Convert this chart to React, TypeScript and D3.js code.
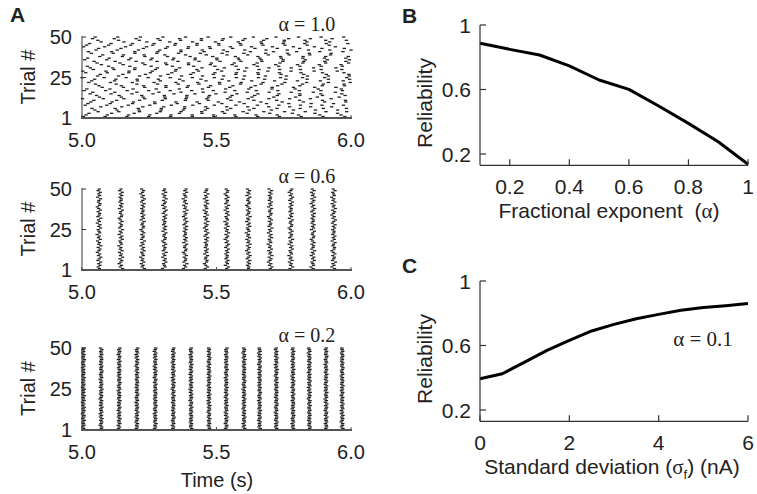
import React from "react";
import * as d3 from "d3";

// ---------- Panel A data (spike rasters) ----------
const trialCount = 50;
const timeTicks = [5.0, 5.5, 6.0];
const trialTicks = [1, 25, 50];
const alphaLabels = ["α = 1.0", "α = 0.6", "α = 0.2"];

// α = 1.0 : per-trial first-spike phase (ms) and inter-spike interval (s)
const phase10 = [
  5, 15, 26, 60, 48, 37, 70, 12, 22, 33,
  44, 2, 65, 54, 30, 40, 8, 18, 75, 63,
  50, 25, 36, 47, 0, 58, 68, 14, 3, 42,
  31, 20, 72, 56, 45, 10, 21, 66, 77, 35,
  24, 52, 62, 6, 17, 28, 71, 59, 39, 49,
];
const isi10 = [
  0.081, 0.079, 0.084, 0.077, 0.082, 0.086, 0.078, 0.080, 0.083, 0.079,
  0.085, 0.077, 0.081, 0.084, 0.078, 0.082, 0.080, 0.086, 0.079, 0.083,
  0.077, 0.081, 0.085, 0.079, 0.082, 0.078, 0.084, 0.080, 0.086, 0.077,
  0.083, 0.079, 0.081, 0.085, 0.078, 0.082, 0.080, 0.084, 0.077, 0.081,
  0.086, 0.079, 0.083, 0.078, 0.082, 0.080, 0.085, 0.077, 0.081, 0.084,
];

// α = 0.6 : burst times (s) and trial jitter (ms)
const bursts06 = [5.063, 5.144, 5.225, 5.306, 5.383, 5.461, 5.538, 5.618, 5.699, 5.776, 5.858, 5.935];
const jitter06 = [
  2, -3, 4, -1, 6, -4, 1, 7, -2, 3,
  -6, 0, 4, -3, 7, -1, 2, -5, 5, -2,
  1, -7, 3, 0, -3, 6, -1, 4, -6, 2,
  -2, 7, -4, 1, 3, -3, 5, -1, -6, 2,
  4, -2, 0, 6, -5, 3, -1, 5, -3, 1,
];

// α = 0.2 : burst times (s) and trial jitter (ms)
const bursts02 = [5.005, 5.071, 5.138, 5.204, 5.272, 5.339, 5.405, 5.472, 5.536, 5.602, 5.660, 5.722, 5.784, 5.845, 5.907, 5.967];
const jitter02 = [
  1, -2, 2, 0, -1, 3, -2, 1, 2, -3,
  0, 2, -1, 3, -2, 1, -3, 2, 0, -1,
  3, -2, 1, -1, 2, -3, 0, 2, -2, 1,
  -1, 3, -2, 0, 2, -1, 1, -3, 2, 0,
  -2, 1, 3, -1, 0, 2, -2, 1, -1, 2,
];

// ---------- Panel B data ----------
const alphaValues = [0.1, 0.2, 0.3, 0.4, 0.5, 0.6, 0.7, 0.8, 0.9, 1.0];
const reliabilityB = [0.887, 0.849, 0.814, 0.746, 0.659, 0.601, 0.498, 0.39, 0.276, 0.136];
const alphaTicks = [0.2, 0.4, 0.6, 0.8, 1];
const reliabilityTicks = [0.2, 0.6, 1];

// ---------- Panel C data ----------
const sigmaValues = [0, 0.5, 1, 1.5, 2, 2.5, 3, 3.5, 4, 4.5, 5, 5.5, 6];
const reliabilityC = [0.394, 0.425, 0.497, 0.57, 0.632, 0.69, 0.731, 0.766, 0.793, 0.818, 0.835, 0.847, 0.86];
const sigmaTicks = [0, 2, 4, 6];

const SANS = "'Liberation Sans', Arial, Helvetica, sans-serif";
const SERIF = "'Liberation Serif', 'Times New Roman', serif";
const FSA = 20;
const FSB = 21;

type Spike = { t: number; trial: number };

function spikes10(): Spike[] {
  const out: Spike[] = [];
  phase10.forEach((ph, i) => {
    for (let t = 5 + ph / 1000; t <= 6.0; t += isi10[i]) out.push({ t, trial: i + 1 });
  });
  return out;
}
function burstSpikes(bursts: number[], jit: number[]): Spike[] {
  const out: Spike[] = [];
  bursts.forEach((b, k) => {
    for (let i = 0; i < trialCount; i++) {
      const j = jit[(i + k * 7) % jit.length];
      out.push({ t: b + j / 1000, trial: i + 1 });
    }
  });
  return out;
}

function Raster({ top, bottom, spikes, label, labelY, dashW, showTime }: any) {
  const x = d3.scaleLinear().domain([5, 6]).range([82, 351]);
  const y = d3.scaleLinear().domain([1, 50]).range([bottom - 1.5, top + 1]);
  return (
    <g>
      {spikes.map((s: Spike, i: number) => (
        <rect key={i} x={x(s.t) - dashW / 2} y={y(s.trial) - 0.6} width={dashW} height={1.3} fill="#222" />
      ))}
      <line x1={82} x2={82} y1={top} y2={bottom} stroke="#333" strokeWidth={1} />
      <line x1={81} x2={352} y1={bottom} y2={bottom} stroke="#555" strokeWidth={2} />
      {trialTicks.map((t) => (
        <g key={t}>
          {t !== 1 && <line x1={82} x2={86} y1={y(t)} y2={y(t)} stroke="#333" strokeWidth={1} />}
          <text x={72} y={t === 1 ? bottom : y(t)} dy="0.36em" textAnchor="end" fontFamily={SANS} fontSize={FSA} fill="#222">{t}</text>
        </g>
      ))}
      {timeTicks.map((t) => (
        <g key={t}>
          <line x1={x(t)} x2={x(t)} y1={bottom} y2={bottom - 3} stroke="#555" strokeWidth={1} />
          <text x={x(t)} y={bottom + 29} textAnchor="middle" fontFamily={SANS} fontSize={FSA} fill="#222">{t.toFixed(1)}</text>
        </g>
      ))}
      <text x={307} y={labelY} textAnchor="middle" fontFamily={SERIF} fontSize={FSA} fill="#222">{label}</text>
      <text transform={`translate(35,${(top + bottom) / 2}) rotate(-90)`} textAnchor="middle" fontFamily={SANS} fontSize={FSA} fill="#222">Trial #</text>
      {showTime && (
        <text x={217} y={bottom + 57} textAnchor="middle" fontFamily={SANS} fontSize={FSA} fill="#222">Time (s)</text>
      )}
    </g>
  );
}

function LinePanel({ top, xs, ys, xDomain, xTicks, xFmt, xLabel, extra }: any) {
  const x = d3.scaleLinear().domain(xDomain).range([480, 748]);
  const y = d3.scaleLinear().domain([0.2, 1]).range([top + 129, top]);
  const bottom = y(0.13);
  const line = d3.line<number>().x((_, i) => x(xs[i])).y((d) => y(d));
  return (
    <g>
      <path d={line(ys) || ""} fill="none" stroke="#000" strokeWidth={3} strokeLinejoin="round" />
      <line x1={480} x2={480} y1={top} y2={bottom} stroke="#333" strokeWidth={1.2} />
      <line x1={480} x2={748} y1={bottom} y2={bottom} stroke="#333" strokeWidth={1.2} />
      {reliabilityTicks.map((t) => (
        <g key={t}>
          <line x1={480} x2={486} y1={y(t)} y2={y(t)} stroke="#333" strokeWidth={1.2} />
          <text x={471} y={y(t)} dy="0.36em" textAnchor="end" fontFamily={SANS} fontSize={FSB} fill="#222">{t}</text>
        </g>
      ))}
      {xTicks.map((t: number) => (
        <g key={t}>
          <line x1={x(t)} x2={x(t)} y1={bottom} y2={bottom - 6} stroke="#333" strokeWidth={1.2} />
          <text x={x(t)} y={bottom + 29} textAnchor="middle" fontFamily={SANS} fontSize={FSB} fill="#222">{xFmt(t)}</text>
        </g>
      ))}
      <text transform={`translate(432,${top + 78}) rotate(-90)`} textAnchor="middle" fontFamily={SANS} fontSize={FSB} fill="#222">Reliability</text>
      {xLabel}
      {extra}
    </g>
  );
}

export default function App() {
  const s10 = spikes10();
  const s06 = burstSpikes(bursts06, jitter06);
  const s02 = burstSpikes(bursts02, jitter02);
  return (
    <svg width={757} height={494} style={{ position: "absolute", left: 0, top: 0, background: "#fff" }}>
      <text x={10} y={22} fontFamily={SANS} fontWeight="bold" fontSize={21} fill="#222">A</text>
      <text x={402} y={23} fontFamily={SANS} fontWeight="bold" fontSize={21} fill="#222">B</text>
      <text x={402} y={273} fontFamily={SANS} fontWeight="bold" fontSize={21} fill="#222">C</text>

      <Raster top={36} bottom={118} spikes={s10} label={alphaLabels[0]} labelY={31} dashW={3.4} />
      <Raster top={188} bottom={270} spikes={s06} label={alphaLabels[1]} labelY={183} dashW={3.2} />
      <Raster top={347} bottom={430} spikes={s02} label={alphaLabels[2]} labelY={342} dashW={3.6} showTime />

      <LinePanel
        top={25}
        xs={alphaValues}
        ys={reliabilityB}
        xDomain={[0.1, 1]}
        xTicks={alphaTicks}
        xFmt={(t: number) => (t === 1 ? "1" : t.toFixed(1))}
        xLabel={
          <text x={609} y={218} textAnchor="middle" fontFamily={SANS} fontSize={FSB} fill="#222" style={{ whiteSpace: "pre" }}>
            {"Fractional exponent  ("}<tspan fontFamily={SERIF}>α</tspan>)
          </text>
        }
      />
      <LinePanel
        top={281}
        xs={sigmaValues}
        ys={reliabilityC}
        xDomain={[0, 6]}
        xTicks={sigmaTicks}
        xFmt={(t: number) => String(t)}
        xLabel={
          <text x={612} y={474} textAnchor="middle" fontFamily={SANS} fontSize={FSB} fill="#222">
            Standard deviation (<tspan fontFamily={SERIF}>σ</tspan><tspan fontSize={13} dy={5}>f</tspan><tspan dy={-5}>) (nA)</tspan>
          </text>
        }
        extra={
          <text x={703} y={346} textAnchor="middle" fontFamily={SERIF} fontSize={FSB} fill="#222">α = 0.1</text>
        }
      />
    </svg>
  );
}
